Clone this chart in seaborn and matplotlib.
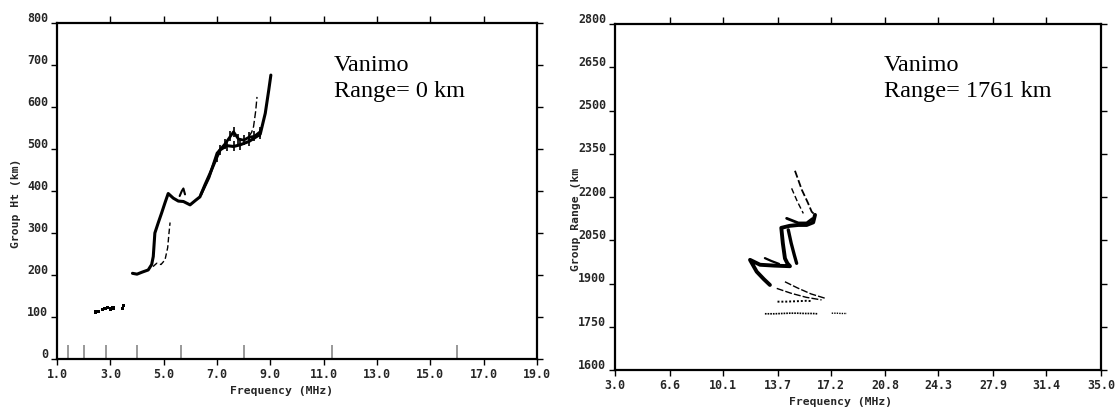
import numpy as np
import pandas as pd
import matplotlib
matplotlib.use("Agg")
import matplotlib.pyplot as plt
import seaborn as sns
from matplotlib.transforms import ScaledTranslation

# ---------------- data: left panel (vertical ionogram, range 0 km) ----------------
left_xticks = [1.0, 3.0, 5.0, 7.0, 9.0, 11.0, 13.0, 15.0, 17.0, 19.0]
left_yticks = [0, 100, 200, 300, 400, 500, 600, 700, 800]
left_marker_freqs = [1.41, 2.0, 2.83, 4.0, 5.66, 8.0, 11.3, 16.0]

e_freq = [2.45, 2.55, 2.7, 2.8, 2.9, 3.0, 3.1, 3.45, 3.5]
e_ht = [112, 113, 118, 120, 123, 119, 121, 120, 128]

o_freq = [3.83, 4.0, 4.2, 4.42, 4.55, 4.61, 4.67, 4.8, 4.92, 5.05, 5.17, 5.36, 5.55,
          5.74, 5.99, 6.2, 6.36, 6.55, 6.74, 6.99, 7.12, 7.37, 7.62, 7.87, 8.2, 8.62,
          8.81, 8.94, 9.02]
o_ht = [204, 202, 207, 212, 225, 244, 300, 325, 347, 372, 394, 383, 376,
        375, 367, 378, 386, 415, 442, 480, 498, 508, 506, 510, 518, 535,
        585, 640, 676]

o2_freq = [6.4, 6.7, 7.0, 7.3, 7.5, 7.62, 7.8, 8.0, 8.2, 8.4, 8.62]
o2_ht = [392, 432, 490, 512, 530, 541, 524, 521, 528, 530, 541]

x_freq = [4.6, 4.74, 4.9, 5.05, 5.15, 5.2, 5.24]
x_ht = [220, 228, 225, 236, 265, 300, 325]

x2_freq = [8.2, 8.3, 8.37, 8.45, 8.5]
x2_ht = [530, 540, 553, 590, 624]

bump_freq = [5.6, 5.68, 5.74, 5.8]
bump_ht = [388, 400, 406, 392]

# ---------------- data: right panel (oblique ionogram, range 1761 km) ----------------
right_xticks = [3.0, 6.6, 10.1, 13.7, 17.2, 20.8, 24.3, 27.9, 31.4, 35.0]
right_yticks = [1600, 1750, 1900, 2050, 2200, 2350, 2500, 2650, 2800]

u1_freq = [14.85, 15.3, 15.7, 15.95, 16.17]
u1_rng = [2291, 2225, 2180, 2149, 2138]
u2_freq = [14.63, 15.0, 15.4]
u2_rng = [2230, 2185, 2143]

zig_freq = [16.17, 16.05, 15.62, 15.07, 14.5, 13.95, 14.05, 14.19, 14.35, 14.52,
            13.5, 12.55, 11.89, 12.33, 12.8, 13.2]
zig_rng = [2138, 2112, 2103, 2103, 2100, 2093, 2040, 1987, 1970, 1960,
           1962, 1965, 1982, 1941, 1915, 1895]
band_freq = [14.41, 14.6, 14.8, 14.96]
band_rng = [2086, 2040, 2000, 1970]
top_freq = [14.3, 15.07, 15.62, 16.0]
top_rng = [2126, 2110, 2110, 2125]

arrow_freq = [12.87, 13.3, 13.8]
arrow_rng = [1988, 1978, 1968]

l1_freq = [14.19, 15.0, 15.9, 16.82]
l1_rng = [1906, 1885, 1864, 1849]
l2_freq = [13.65, 14.6, 15.6, 16.6]
l2_rng = [1883, 1866, 1852, 1843]

dot_freq = [13.7, 14.2, 14.7, 15.2, 15.6, 15.9]
dot_rng = [1837, 1837, 1838, 1839, 1840, 1839]

b1_freq = [12.87, 13.5, 14.0, 14.5, 15.0, 15.5, 16.0, 16.33]
b1_rng = [1795, 1795, 1796, 1797, 1797, 1796, 1796, 1795]
b2_freq = [17.27, 17.6, 17.9, 18.27]
b2_rng = [1797, 1797, 1796, 1796]

# ---------------- style ----------------
sns.set_theme(style="white")
plt.rcParams["font.family"] = ["DejaVu Sans Mono", "DejaVu Sans"]
plt.rcParams["axes.linewidth"] = 1.6

fig = plt.figure(figsize=(11.15, 4.09), dpi=100)
axL = fig.add_axes([57 / 1115, 1 - 359 / 409, 480 / 1115, 336 / 409])
axR = fig.add_axes([615 / 1115, 1 - 370 / 409, 486 / 1115, 346 / 409])

TS = 8.4
tickfont = dict(family="DejaVu Sans Mono", weight="bold", size=TS)


def df(x, y):
    return pd.DataFrame({"f": x, "h": y})


def trace(ax, x, y, lw=1.2, ls="-", color="black"):
    sns.lineplot(data=df(x, y), x="f", y="h", ax=ax, sort=False, estimator=None,
                 color=color, lw=lw, linestyle=ls, legend=False)


# left panel traces
sns.scatterplot(data=df(e_freq, e_ht), x="f", y="h", ax=axL, marker="s", s=6,
                color="black", edgecolor="none", legend=False)
trace(axL, o_freq, o_ht, lw=2.2)
trace(axL, o2_freq, o2_ht, lw=2.0)
sns.scatterplot(data=df(o_freq[19:26] + o2_freq[3:], o_ht[19:26] + o2_ht[3:]),
                x="f", y="h", ax=axL, marker="|", s=60, linewidth=1.2,
                color="black", legend=False)
trace(axL, x_freq, x_ht, lw=1.0, ls=(0, (4, 2)))
trace(axL, x2_freq, x2_ht, lw=1.0, ls=(0, (5, 2)))
trace(axL, bump_freq, bump_ht, lw=1.5)

# right panel traces
trace(axR, u1_freq, u1_rng, lw=1.3, ls=(0, (4, 1.5)))
trace(axR, u2_freq, u2_rng, lw=1.0, ls=(0, (4, 2)))
trace(axR, zig_freq, zig_rng, lw=2.8)
trace(axR, band_freq, band_rng, lw=2.4)
trace(axR, top_freq, top_rng, lw=2.0)
trace(axR, arrow_freq, arrow_rng, lw=1.6)
trace(axR, l1_freq, l1_rng, lw=1.0, ls=(0, (5, 1.5)))
trace(axR, l2_freq, l2_rng, lw=1.0, ls=(0, (5, 1.5)))
trace(axR, dot_freq, dot_rng, lw=1.4, ls=(0, (1, 1)))
trace(axR, b1_freq, b1_rng, lw=1.2, ls=(0, (1, 0.6)))
trace(axR, b2_freq, b2_rng, lw=1.0, ls=(0, (1, 0.8)))


def style_axes(ax, xticks, yticks, xlim, ylim, xlabel, ylabel, xlab_xy, ylab_xy,
               top_ticks):
    ax.set_xlim(*xlim)
    ax.set_ylim(*ylim)
    ax.set_xticks(xticks)
    ax.set_xticklabels([f"{v:.1f}" for v in xticks], **tickfont)
    ax.set_yticks(yticks)
    ax.set_yticklabels([str(v) for v in yticks], **tickfont)
    for s in ax.spines.values():
        s.set_visible(True)
        s.set_color("black")
        s.set_linewidth(1.6)
    ax.tick_params(axis="both", which="major", direction="out", length=4,
                   width=1.0, color="black", pad=2.5, labelsize=TS)
    ax.tick_params(axis="y", right=True, left=True, labelright=False)
    ax.tick_params(axis="x", bottom=True, top=False)
    sec = ax.secondary_xaxis("top")
    sec.set_xticks(top_ticks)
    sec.set_xticklabels([])
    sec.tick_params(direction="out", length=5, width=1.0, color="black")
    sec.spines["top"].set_visible(False)
    for lab in ax.get_yticklabels():
        lab.set_transform(lab.get_transform() +
                          ScaledTranslation(0, 4.5 / 72, fig.dpi_scale_trans))
    ax.set_xlabel(xlabel, fontdict=dict(family="DejaVu Sans Mono", weight="bold",
                                        size=8.2))
    ax.set_ylabel(ylabel, fontdict=dict(family="DejaVu Sans Mono", weight="bold",
                                        size=8.2))
    ax.xaxis.set_label_coords(*xlab_xy)
    ax.yaxis.set_label_coords(*ylab_xy)
    ax.grid(False)


style_axes(axL, left_xticks, left_yticks, (1.0, 19.0), (0, 800),
           "Frequency (MHz)", "Group Ht (km)", (0.467, -0.080), (-0.074, 0.464),
           left_xticks[1:-1])
axL.set_xticks(left_marker_freqs, minor=True)
axL.tick_params(axis="x", which="minor", direction="in", length=10, width=1.2,
                color="#888888", bottom=True, top=False)

style_axes(axR, right_xticks, right_yticks, (3.0, 35.0), (1600, 2800),
           "Frequency (MHz)", "Group Range (km", (0.465, -0.077), (-0.069, 0.436),
           right_xticks[1:-1])

# station annotations
serif = dict(family="Liberation Serif", size=17.5, color="black")
axL.text((334 - 57) / 480, (359 - 71) / 336, "Vanimo", transform=axL.transAxes,
         va="baseline", ha="left", **serif)
axL.text((334 - 57) / 480, (359 - 97) / 336, "Range= 0 km", transform=axL.transAxes,
         va="baseline", ha="left", **serif)
axR.text((884 - 615) / 486, (370 - 71) / 346, "Vanimo", transform=axR.transAxes,
         va="baseline", ha="left", **serif)
axR.text((884 - 615) / 486, (370 - 97) / 346, "Range= 1761 km",
         transform=axR.transAxes, va="baseline", ha="left", **serif)

fig.savefig("out.png", dpi=100, facecolor="white")
